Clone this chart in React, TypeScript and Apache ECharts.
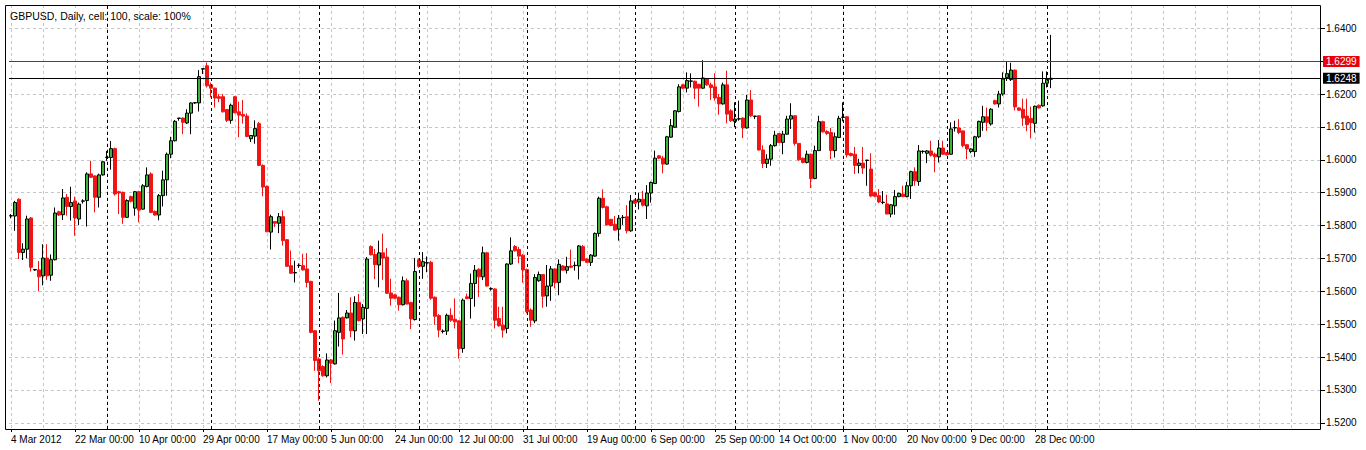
import React, { useEffect, useRef } from "react";
import * as echarts from "echarts";

const TITLE = "GBPUSD, Daily, cell: 100, scale: 100%";
const START_DATE = "2012-03-04";
const HOLIDAYS = ["2012-12-25", "2013-01-01"];
const TICK_LABELS = [
  "4 Mar 2012", "22 Mar 00:00", "10 Apr 00:00", "29 Apr 00:00", "17 May 00:00",
  "5 Jun 00:00", "24 Jun 00:00", "12 Jul 00:00", "31 Jul 00:00", "19 Aug 00:00",
  "6 Sep 00:00", "25 Sep 00:00", "14 Oct 00:00", "1 Nov 00:00", "20 Nov 00:00",
  "9 Dec 00:00", "28 Dec 00:00",
];
const LABEL_EVERY = 16;
const GRID_EVERY = 8;
const FUTURE_BARS = 67;
const PRICE_TICKS = [1.52, 1.53, 1.54, 1.55, 1.56, 1.57, 1.58, 1.59, 1.6, 1.61, 1.62, 1.63, 1.64];
const Y_MIN = 1.5181;
const Y_MAX = 1.6471;
const RED_LINE = 1.6299;
const BID_LINE = 1.6248;

// rows: [open, high, low, close]
const MAR_2012 = [
  [1.5829, 1.5835, 1.5822, 1.5830], [1.5829, 1.5875, 1.5784, 1.5870], [1.5880, 1.5883, 1.5698, 1.5718],
  [1.5718, 1.5746, 1.5695, 1.5728], [1.5728, 1.5830, 1.5700, 1.5820], [1.5823, 1.5826, 1.5660, 1.5673],
  [1.5665, 1.5668, 1.5662, 1.5666], [1.5665, 1.5692, 1.5600, 1.5644], [1.5647, 1.5743, 1.5618, 1.5701],
  [1.5701, 1.5743, 1.5635, 1.5647], [1.5649, 1.5712, 1.5632, 1.5696], [1.5696, 1.5855, 1.5694, 1.5838],
  [1.5842, 1.5845, 1.5829, 1.5832], [1.5833, 1.5911, 1.5817, 1.5884], [1.5886, 1.5896, 1.5830, 1.5858],
  [1.5858, 1.5918, 1.5815, 1.5870], [1.5875, 1.5888, 1.5769, 1.5823], [1.5820, 1.5870, 1.5801, 1.5865],
  [1.5874, 1.5880, 1.5867, 1.5875], [1.5876, 1.5962, 1.5797, 1.5957], [1.5957, 1.5997, 1.5945, 1.5947],
  [1.5951, 1.5953, 1.5840, 1.5886], [1.5886, 1.5958, 1.5855, 1.5954], [1.5954, 1.5997, 1.5952, 1.5994],
];
const APR_2012 = [
  [1.6007, 1.6027, 1.5997, 1.6008], [1.6007, 1.6057, 1.5970, 1.6034], [1.6034, 1.6037, 1.5891, 1.5896],
  [1.5903, 1.5906, 1.5835, 1.5899], [1.5901, 1.5903, 1.5805, 1.5825], [1.5825, 1.5880, 1.5823, 1.5876],
  [1.5888, 1.5891, 1.5870, 1.5874], [1.5853, 1.5905, 1.5830, 1.5903], [1.5903, 1.5906, 1.5810, 1.5847],
  [1.5850, 1.5926, 1.5848, 1.5921], [1.5919, 1.5977, 1.5916, 1.5954], [1.5957, 1.5962, 1.5838, 1.5840],
  [1.5843, 1.5846, 1.5830, 1.5832], [1.5832, 1.5896, 1.5816, 1.5891], [1.5891, 1.5967, 1.5858, 1.5939],
  [1.5939, 1.6022, 1.5891, 1.6017], [1.6017, 1.6070, 1.6005, 1.6058], [1.6058, 1.6121, 1.6056, 1.6117],
  [1.6126, 1.6127, 1.6119, 1.6127], [1.6127, 1.6129, 1.6078, 1.6114], [1.6112, 1.6154, 1.6109, 1.6142],
  [1.6142, 1.6175, 1.6078, 1.6173], [1.6173, 1.6176, 1.6170, 1.6174], [1.6173, 1.6273, 1.6147, 1.6253],
  [1.6276, 1.6279, 1.6261, 1.6277], [1.6286, 1.6296, 1.6220, 1.6225],
];
const MAY_2012 = [
  [1.6228, 1.6235, 1.6190, 1.6218], [1.6218, 1.6220, 1.6159, 1.6188], [1.6192, 1.6200, 1.6175, 1.6187],
  [1.6192, 1.6200, 1.6144, 1.6146], [1.6153, 1.6155, 1.6115, 1.6120], [1.6120, 1.6171, 1.6110, 1.6166],
  [1.6192, 1.6194, 1.6141, 1.6143], [1.6146, 1.6177, 1.6069, 1.6136], [1.6138, 1.6182, 1.6110, 1.6133],
  [1.6133, 1.6141, 1.6069, 1.6071], [1.6064, 1.6074, 1.6054, 1.6074], [1.6072, 1.6120, 1.6049, 1.6095],
  [1.6110, 1.6115, 1.5981, 1.5983], [1.5983, 1.5986, 1.5889, 1.5917], [1.5919, 1.5922, 1.5780, 1.5781],
  [1.5780, 1.5833, 1.5727, 1.5827], [1.5812, 1.5813, 1.5795, 1.5807], [1.5807, 1.5838, 1.5777, 1.5827],
  [1.5827, 1.5846, 1.5739, 1.5754], [1.5757, 1.5759, 1.5675, 1.5676], [1.5678, 1.5724, 1.5653, 1.5655],
  [1.5656, 1.5693, 1.5627, 1.5657], [1.5678, 1.5685, 1.5671, 1.5679], [1.5678, 1.5714, 1.5663, 1.5665],
  [1.5668, 1.5716, 1.5612, 1.5627], [1.5630, 1.5632, 1.5472, 1.5475], [1.5480, 1.5481, 1.5358, 1.5389],
];
const JUN_2012 = [
  [1.5394, 1.5399, 1.5267, 1.5358], [1.5371, 1.5375, 1.5340, 1.5343], [1.5343, 1.5411, 1.5338, 1.5391],
  [1.5391, 1.5394, 1.5321, 1.5381], [1.5379, 1.5511, 1.5377, 1.5480], [1.5475, 1.5595, 1.5432, 1.5519],
  [1.5521, 1.5523, 1.5407, 1.5455], [1.5519, 1.5543, 1.5517, 1.5534], [1.5534, 1.5582, 1.5460, 1.5480],
  [1.5480, 1.5585, 1.5450, 1.5566], [1.5566, 1.5592, 1.5508, 1.5511], [1.5516, 1.5561, 1.5470, 1.5551],
  [1.5548, 1.5704, 1.5470, 1.5698], [1.5736, 1.5740, 1.5709, 1.5711], [1.5712, 1.5729, 1.5637, 1.5681],
  [1.5680, 1.5754, 1.5612, 1.5717], [1.5717, 1.5775, 1.5635, 1.5701], [1.5704, 1.5732, 1.5592, 1.5594],
  [1.5595, 1.5638, 1.5556, 1.5579], [1.5589, 1.5592, 1.5576, 1.5579], [1.5582, 1.5584, 1.5541, 1.5559],
  [1.5559, 1.5645, 1.5557, 1.5632], [1.5632, 1.5639, 1.5561, 1.5561], [1.5566, 1.5568, 1.5485, 1.5516],
  [1.5514, 1.5701, 1.5511, 1.5660],
];
const JUL_2012 = [
  [1.5696, 1.5700, 1.5671, 1.5676], [1.5676, 1.5719, 1.5638, 1.5690], [1.5686, 1.5706, 1.5658, 1.5687],
  [1.5688, 1.5693, 1.5574, 1.5579], [1.5582, 1.5584, 1.5498, 1.5524], [1.5526, 1.5531, 1.5460, 1.5482],
  [1.5478, 1.5484, 1.5472, 1.5479], [1.5479, 1.5532, 1.5467, 1.5527], [1.5527, 1.5548, 1.5507, 1.5512],
  [1.5515, 1.5578, 1.5487, 1.5507], [1.5510, 1.5512, 1.5395, 1.5426], [1.5426, 1.5578, 1.5413, 1.5573],
  [1.5583, 1.5593, 1.5576, 1.5578], [1.5578, 1.5654, 1.5517, 1.5624], [1.5624, 1.5680, 1.5553, 1.5664],
  [1.5667, 1.5670, 1.5583, 1.5644], [1.5644, 1.5736, 1.5634, 1.5717], [1.5717, 1.5720, 1.5614, 1.5616],
  [1.5607, 1.5612, 1.5602, 1.5608], [1.5607, 1.5609, 1.5487, 1.5512], [1.5517, 1.5553, 1.5492, 1.5495],
  [1.5497, 1.5553, 1.5459, 1.5482], [1.5487, 1.5685, 1.5472, 1.5683], [1.5683, 1.5764, 1.5680, 1.5723],
  [1.5736, 1.5741, 1.5721, 1.5723], [1.5727, 1.5735, 1.5685, 1.5707], [1.5710, 1.5713, 1.5626, 1.5665],
];
const AUG_2012 = [
  [1.5666, 1.5669, 1.5533, 1.5538], [1.5543, 1.5548, 1.5492, 1.5512], [1.5510, 1.5652, 1.5503, 1.5642],
  [1.5632, 1.5660, 1.5629, 1.5651], [1.5651, 1.5652, 1.5550, 1.5585], [1.5586, 1.5680, 1.5553, 1.5616],
  [1.5616, 1.5677, 1.5571, 1.5668], [1.5668, 1.5670, 1.5609, 1.5627], [1.5627, 1.5697, 1.5588, 1.5682],
  [1.5677, 1.5680, 1.5664, 1.5664], [1.5664, 1.5705, 1.5654, 1.5675], [1.5677, 1.5727, 1.5670, 1.5673],
  [1.5678, 1.5690, 1.5663, 1.5679], [1.5677, 1.5741, 1.5636, 1.5738], [1.5736, 1.5741, 1.5693, 1.5693],
  [1.5698, 1.5700, 1.5686, 1.5688], [1.5688, 1.5713, 1.5677, 1.5710], [1.5707, 1.5779, 1.5705, 1.5776],
  [1.5776, 1.5888, 1.5766, 1.5883], [1.5883, 1.5910, 1.5852, 1.5855], [1.5857, 1.5860, 1.5800, 1.5802],
  [1.5819, 1.5820, 1.5798, 1.5800], [1.5804, 1.5829, 1.5786, 1.5786], [1.5789, 1.5832, 1.5754, 1.5822],
  [1.5824, 1.5832, 1.5802, 1.5825], [1.5827, 1.5862, 1.5776, 1.5784], [1.5784, 1.5893, 1.5781, 1.5875],
];
const SEP_2012 = [
  [1.5878, 1.5880, 1.5866, 1.5868], [1.5872, 1.5900, 1.5849, 1.5880], [1.5880, 1.5906, 1.5858, 1.5862],
  [1.5860, 1.5923, 1.5820, 1.5899], [1.5899, 1.5934, 1.5870, 1.5931], [1.5928, 1.6028, 1.5926, 1.6005],
  [1.6012, 1.6015, 1.6002, 1.6005], [1.6005, 1.6012, 1.5959, 1.5987], [1.5987, 1.6073, 1.5985, 1.6070],
  [1.6069, 1.6124, 1.6067, 1.6104], [1.6099, 1.6151, 1.6097, 1.6149], [1.6147, 1.6230, 1.6144, 1.6222],
  [1.6228, 1.6231, 1.6215, 1.6218], [1.6218, 1.6266, 1.6205, 1.6241], [1.6239, 1.6263, 1.6220, 1.6240],
  [1.6239, 1.6241, 1.6185, 1.6218], [1.6230, 1.6231, 1.6162, 1.6218], [1.6218, 1.6303, 1.6216, 1.6249],
  [1.6246, 1.6247, 1.6225, 1.6228], [1.6228, 1.6235, 1.6182, 1.6220], [1.6222, 1.6263, 1.6180, 1.6188],
  [1.6190, 1.6200, 1.6137, 1.6170], [1.6170, 1.6235, 1.6168, 1.6228], [1.6228, 1.6271, 1.6111, 1.6139],
  [1.6149, 1.6154, 1.6115, 1.6119],
];
const OCT_2012 = [
  [1.6117, 1.6175, 1.6099, 1.6124], [1.6124, 1.6180, 1.6119, 1.6125], [1.6127, 1.6129, 1.6066, 1.6097],
  [1.6097, 1.6198, 1.6095, 1.6182], [1.6182, 1.6212, 1.6130, 1.6134], [1.6132, 1.6134, 1.6124, 1.6133],
  [1.6134, 1.6135, 1.6028, 1.6030], [1.6030, 1.6044, 1.5975, 1.5989], [1.5989, 1.6017, 1.5975, 1.6002],
  [1.6002, 1.6048, 1.5982, 1.6043], [1.6043, 1.6088, 1.6040, 1.6075], [1.6080, 1.6081, 1.6051, 1.6053],
  [1.6053, 1.6088, 1.6017, 1.6078], [1.6078, 1.6134, 1.6077, 1.6124], [1.6124, 1.6172, 1.6094, 1.6134],
  [1.6134, 1.6135, 1.6043, 1.6050], [1.6050, 1.6051, 1.5997, 1.6000], [1.6005, 1.6007, 1.5989, 1.5992],
  [1.5992, 1.6028, 1.5989, 1.6017], [1.6017, 1.6019, 1.5914, 1.5943], [1.5943, 1.6043, 1.5941, 1.6028],
  [1.6028, 1.6134, 1.6027, 1.6116], [1.6116, 1.6119, 1.6083, 1.6085], [1.6086, 1.6090, 1.6076, 1.6080],
  [1.6083, 1.6097, 1.6002, 1.6028], [1.6028, 1.6083, 1.6007, 1.6070], [1.6068, 1.6134, 1.6066, 1.6126],
];
const NOV_2012 = [
  [1.6129, 1.6175, 1.6117, 1.6130], [1.6131, 1.6132, 1.6007, 1.6015], [1.6019, 1.6022, 1.6010, 1.6013],
  [1.6017, 1.6039, 1.5957, 1.5983], [1.5983, 1.6003, 1.5959, 1.5990], [1.5990, 1.6039, 1.5957, 1.5975],
  [1.5998, 1.6000, 1.5921, 1.5999], [1.5972, 1.6020, 1.5886, 1.5890], [1.5900, 1.5903, 1.5886, 1.5889],
  [1.5891, 1.5911, 1.5868, 1.5872], [1.5870, 1.5905, 1.5865, 1.5871], [1.5866, 1.5894, 1.5835, 1.5835],
  [1.5835, 1.5865, 1.5825, 1.5863], [1.5860, 1.5908, 1.5833, 1.5888], [1.5888, 1.5900, 1.5886, 1.5898],
  [1.5896, 1.5921, 1.5886, 1.5888], [1.5888, 1.5933, 1.5886, 1.5921], [1.5921, 1.5967, 1.5881, 1.5964],
  [1.5964, 1.5977, 1.5921, 1.5936], [1.5934, 1.6045, 1.5921, 1.6027], [1.6025, 1.6029, 1.6019, 1.6026],
  [1.6020, 1.6030, 1.5990, 1.6027], [1.6027, 1.6058, 1.6010, 1.6014], [1.6017, 1.6022, 1.5962, 1.6009],
  [1.6009, 1.6060, 1.5992, 1.6036], [1.6036, 1.6058, 1.6015, 1.6017],
];
const DEC_2012 = [
  [1.6022, 1.6024, 1.6013, 1.6015], [1.6017, 1.6114, 1.6015, 1.6094], [1.6097, 1.6119, 1.6086, 1.6098],
  [1.6097, 1.6124, 1.6078, 1.6083], [1.6088, 1.6089, 1.6038, 1.6043], [1.6046, 1.6047, 1.6002, 1.6033],
  [1.6025, 1.6035, 1.6020, 1.6033], [1.6025, 1.6073, 1.6009, 1.6070], [1.6070, 1.6119, 1.6066, 1.6117],
  [1.6114, 1.6164, 1.6088, 1.6131], [1.6131, 1.6159, 1.6088, 1.6114], [1.6109, 1.6157, 1.6104, 1.6154],
  [1.6180, 1.6183, 1.6168, 1.6170], [1.6170, 1.6210, 1.6159, 1.6200], [1.6200, 1.6266, 1.6195, 1.6246],
  [1.6250, 1.6300, 1.6240, 1.6262], [1.6244, 1.6295, 1.6240, 1.6273], [1.6273, 1.6274, 1.6150, 1.6161],
  [1.6158, 1.6160, 1.6149, 1.6151], [1.6154, 1.6186, 1.6103, 1.6127], [1.6133, 1.6186, 1.6087, 1.6107],
  [1.6126, 1.6162, 1.6065, 1.6113], [1.6111, 1.6165, 1.6083, 1.6163], [1.6166, 1.6168, 1.6156, 1.6158],
  [1.6164, 1.6269, 1.6162, 1.6233],
];
const JAN_2013 = [
  [1.6233, 1.6269, 1.6220, 1.6245], [1.6245, 1.6380, 1.6218, 1.6248],
];

const BARS = [
  ...MAR_2012, ...APR_2012, ...MAY_2012, ...JUN_2012, ...JUL_2012, ...AUG_2012,
  ...SEP_2012, ...OCT_2012, ...NOV_2012, ...DEC_2012, ...JAN_2013,
];

function tradingDates(start: string, count: number): string[] {
  const out: string[] = [];
  const d = new Date(start + "T00:00:00Z");
  while (out.length < count) {
    const s = d.toISOString().slice(0, 10);
    if (d.getUTCDay() !== 6 && !HOLIDAYS.includes(s)) out.push(s);
    d.setUTCDate(d.getUTCDate() + 1);
  }
  return out;
}

const FONT = "'Liberation Sans', Arial, sans-serif";

function priceLineSeries(name: string, value: number, color: string, z: number) {
  return {
    name,
    type: "line",
    data: [],
    silent: true,
    color,
    z,
    itemStyle: { color },
    lineStyle: { color },
    markLine: {
      silent: true,
      z,
      precision: 4,
      symbol: ["none", "none"],
      animation: false,
      emphasis: { disabled: true },
      lineStyle: { color, type: "solid", width: 1, opacity: 1 },
      label: {
        show: true,
        position: "end",
        distance: 2,
        formatter: () => value.toFixed(4),
        backgroundColor: color,
        color: "#ffffff",
        fontSize: 10,
        fontFamily: FONT,
        padding: [1, 3, 0, 3],
      },
      data: [{ yAxis: value, lineStyle: { color, type: "solid", width: 1, opacity: 1 } }],
    },
  };
}

function buildOption() {
  const dates = tradingDates(START_DATE, BARS.length);
  const categories = [...dates, ...Array.from({ length: FUTURE_BARS }, (_, i) => `future-${i + 1}`)];
  const n = dates.length;
  const labelMap: Record<string, string> = {};
  TICK_LABELS.forEach((t, k) => {
    const idx = k * LABEL_EVERY;
    if (idx < n) labelMap[dates[idx]] = t;
  });
  const monthStarts = dates.filter((d, i) => i > 0 && d.slice(0, 7) !== dates[i - 1].slice(0, 7));
  const candles = BARS.map(([o, h, l, c]) => [o, c, l, h]);
  const showLabel = (i: number) => i % LABEL_EVERY === 0 && i < n;
  const band = 4;
  const gridLeft = 9;

  return {
    animation: false,
    backgroundColor: "#ffffff",
    textStyle: { fontFamily: FONT },
    grid: { left: gridLeft, top: 5, width: categories.length * band, height: 424, containLabel: false },
    xAxis: {
      type: "category",
      data: categories,
      boundaryGap: true,
      axisLine: { show: false },
      axisTick: {
        show: true,
        alignWithLabel: true,
        interval: (i: number) => showLabel(i),
        length: 3,
        lineStyle: { color: "#000" },
      },
      axisLabel: {
        interval: (i: number) => showLabel(i),
        align: "left",
        margin: 5,
        fontSize: 10,
        color: "#000",
        fontFamily: FONT,
        formatter: (v: string) => labelMap[v] ?? "",
      },
      splitLine: {
        show: true,
        alignWithLabel: true,
        interval: (i: number) => i % GRID_EVERY === 0,
        lineStyle: { color: "#c6c6c6", type: [3, 3], width: 1 },
      },
    },
    yAxis: {
      type: "value",
      position: "right",
      min: Y_MIN,
      max: Y_MAX,
      axisLine: { show: false },
      axisTick: { show: true, customValues: PRICE_TICKS, length: 4, lineStyle: { color: "#000" } },
      axisLabel: {
        customValues: PRICE_TICKS,
        formatter: (v: number) => v.toFixed(4),
        margin: 5,
        fontSize: 10,
        color: "#000",
        fontFamily: FONT,
      },
      splitLine: { show: true, lineStyle: { color: "#c6c6c6", type: [3, 3], width: 1 } },
    },
    graphic: [
      {
        type: "rect",
        shape: { x: 5.5, y: 5.5, width: 1315, height: 424 },
        style: { fill: "none", stroke: "#000", lineWidth: 1 },
        silent: true,
        z: 100,
      },
      {
        type: "text",
        x: 10,
        y: 16,
        style: {
          text: TITLE,
          fill: "#000",
          font: `10.5px ${FONT}`,
          textVerticalAlign: "middle",
        },
        z: 101,
      },
    ],
    series: [
      {
        name: "GBPUSD",
        type: "candlestick",
        data: candles,
        barWidth: 3,
        itemStyle: {
          color: "#3cb43c",
          color0: "#f01515",
          borderColor: "#000000",
          borderColor0: "#f01515",
          borderWidth: 1,
        },
        markLine: {
          silent: true,
          symbol: ["none", "none"],
          animation: false,
          label: { show: false },
          lineStyle: { color: "#000000", type: [3, 3], width: 1, opacity: 1 },
          data: monthStarts.map((d) => ({ xAxis: d })),
        },
      },
      priceLineSeries("Bid", BID_LINE, "#000000", 20),
      priceLineSeries("Level", RED_LINE, "#e8000b", 21),
    ],
  };
}

export default function App() {
  const ref = useRef<HTMLDivElement>(null);
  useEffect(() => {
    if (!ref.current) return;
    const chart = echarts.init(ref.current, undefined, { renderer: "svg" });
    chart.setOption(buildOption() as any);
    return () => chart.dispose();
  }, []);
  return (
    <div
      ref={ref}
      style={{ position: "absolute", left: 0, top: 0, width: 1366, height: 450, background: "#fff" }}
    />
  );
}
